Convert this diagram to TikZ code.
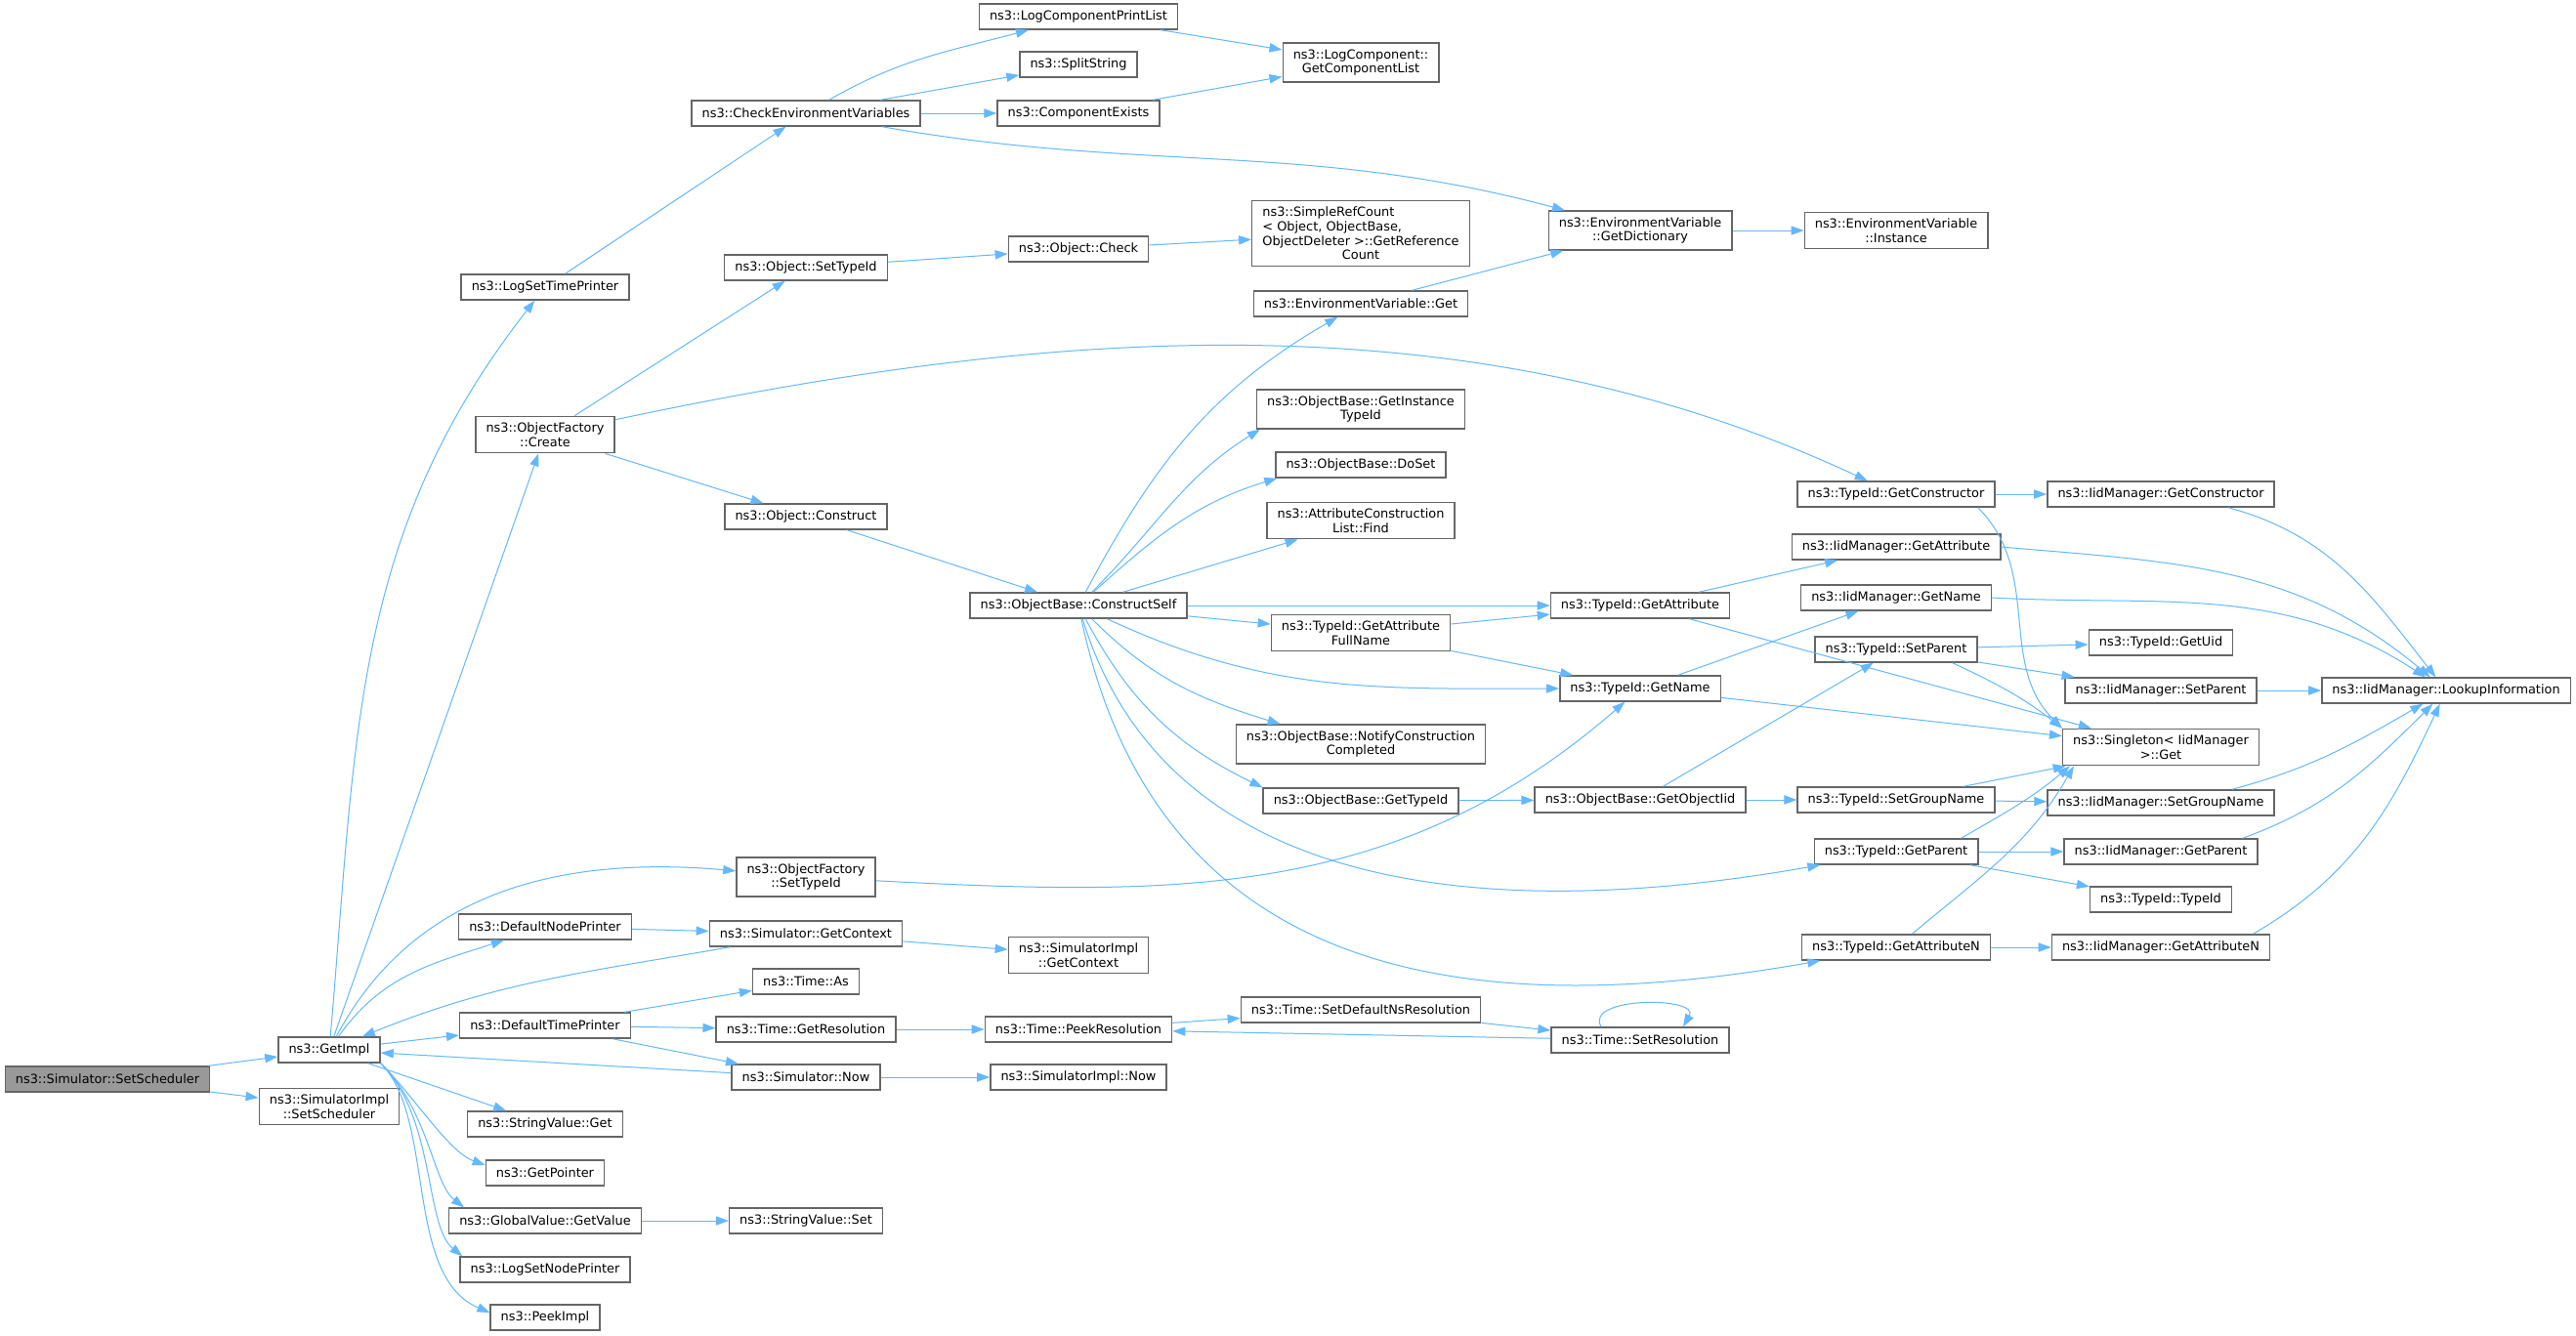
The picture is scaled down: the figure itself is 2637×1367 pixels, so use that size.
\documentclass[tikz,border=0pt]{standalone}
\usepackage{fontspec}
\setmainfont{DejaVu Sans}
\usetikzlibrary{arrows.meta}
\definecolor{callblue}{HTML}{63B8FF}
\definecolor{boxline}{HTML}{666666}
\definecolor{rootgray}{HTML}{999999}
\tikzset{
    every node/.style={rectangle, draw=boxline, fill=white, line width=0.7pt,
        align=center, inner xsep=5.3pt, inner ysep=3.2pt, minimum height=13pt,
        font=\fontsize{6.45}{7.3}\selectfont}
}
\tikzset{
    every edge/.append style={draw=callblue, line width=0.5pt,
        -{Triangle[length=6.5pt, width=4.6pt]}}
}
\newlength\leftwd
\begin{document}
\settowidth{\leftwd}{\fontsize{6.45}{7.3}\selectfont ObjectDeleter >::GetReference}
\begin{tikzpicture}[x=0.5pt, y=0.5pt]
  \path[fill=white, use as bounding box] (0,0) rectangle (2637,-1367);

  \node[fill=rootgray] (0) at (110, -1105) {ns3::Simulator::SetScheduler};
  \node (1) at (337, -1075) {ns3::GetImpl};
  \node (2) at (337, -1133) {ns3::SimulatorImpl\\::SetScheduler};
  \node (3) at (558, -294) {ns3::LogSetTimePrinter};
  \node (4) at (558, -445) {ns3::ObjectFactory\\::Create};
  \node (5) at (558, -949) {ns3::DefaultNodePrinter};
  \node (6) at (558, -1050) {ns3::DefaultTimePrinter};
  \node (7) at (558, -1151) {ns3::StringValue::Get};
  \node (8) at (558, -1201) {ns3::GetPointer};
  \node (9) at (558, -1250) {ns3::GlobalValue::GetValue};
  \node (10) at (558, -1300) {ns3::LogSetNodePrinter};
  \node (11) at (558, -1349) {ns3::PeekImpl};
  \node (12) at (825, -116) {ns3::CheckEnvironmentVariables};
  \node (13) at (825, -274) {ns3::Object::SetTypeId};
  \node (14) at (825, -529) {ns3::Object::Construct};
  \node (15) at (825, -898) {ns3::ObjectFactory\\::SetTypeId};
  \node (16) at (825, -956) {ns3::Simulator::GetContext};
  \node (17) at (825, -1005) {ns3::Time::As};
  \node (18) at (825, -1054) {ns3::Time::GetResolution};
  \node (19) at (825, -1103) {ns3::Simulator::Now};
  \node (20) at (825, -1250) {ns3::StringValue::Set};
  \node (21) at (1104, -17) {ns3::LogComponentPrintList};
  \node (22) at (1104, -66) {ns3::SplitString};
  \node (23) at (1104, -116) {ns3::ComponentExists};
  \node (24) at (1104, -255) {ns3::Object::Check};
  \node (25) at (1104, -620) {ns3::ObjectBase::ConstructSelf};
  \node (26) at (1104, -978) {ns3::SimulatorImpl\\::GetContext};
  \node (27) at (1104, -1054) {ns3::Time::PeekResolution};
  \node (28) at (1104, -1103) {ns3::SimulatorImpl::Now};
  \node (29) at (1393, -64) {ns3::LogComponent::\\GetComponentList};
  \node (30) at (1393, -239) {\makebox[\leftwd][l]{ns3::SimpleRefCount}\\\makebox[\leftwd][l]{< Object, ObjectBase,}\\ObjectDeleter >::GetReference\\Count};
  \node (31) at (1393, -311) {ns3::EnvironmentVariable::Get};
  \node (32) at (1393, -419) {ns3::ObjectBase::GetInstance\\TypeId};
  \node (33) at (1393, -476) {ns3::ObjectBase::DoSet};
  \node (34) at (1393, -533) {ns3::AttributeConstruction\\List::Find};
  \node (35) at (1393, -648) {ns3::TypeId::GetAttribute\\FullName};
  \node (36) at (1393, -762) {ns3::ObjectBase::NotifyConstruction\\Completed};
  \node (37) at (1393, -820) {ns3::ObjectBase::GetTypeId};
  \node (38) at (1393, -1034) {ns3::Time::SetDefaultNsResolution};
  \node (39) at (1679, -236) {ns3::EnvironmentVariable\\::GetDictionary};
  \node (40) at (1679, -620) {ns3::TypeId::GetAttribute};
  \node (41) at (1679, -705) {ns3::TypeId::GetName};
  \node (42) at (1679, -819) {ns3::ObjectBase::GetObjectIid};
  \node (43) at (1679, -1065) {ns3::Time::SetResolution};
  \node (44) at (1941, -236) {ns3::EnvironmentVariable\\::Instance};
  \node (45) at (1941, -506) {ns3::TypeId::GetConstructor};
  \node (46) at (1941, -560) {ns3::IidManager::GetAttribute};
  \node (47) at (1941, -612) {ns3::IidManager::GetName};
  \node (48) at (1941, -665) {ns3::TypeId::SetParent};
  \node (49) at (1941, -819) {ns3::TypeId::SetGroupName};
  \node (50) at (1941, -872) {ns3::TypeId::GetParent};
  \node (51) at (1941, -970) {ns3::TypeId::GetAttributeN};
  \node (52) at (2212, -506) {ns3::IidManager::GetConstructor};
  \node (53) at (2212, -658) {ns3::TypeId::GetUid};
  \node (54) at (2212, -707) {ns3::IidManager::SetParent};
  \node (55) at (2212, -765) {ns3::Singleton< IidManager\\ >::Get};
  \node (56) at (2212, -822) {ns3::IidManager::SetGroupName};
  \node (57) at (2212, -872) {ns3::IidManager::GetParent};
  \node (58) at (2212, -921) {ns3::TypeId::TypeId};
  \node (59) at (2212, -970) {ns3::IidManager::GetAttributeN};
  \node (60) at (2504, -707) {ns3::IidManager::LookupInformation};

  \draw (0) edge (1); \draw (0) edge (2);
  \draw (1) edge[out=85, in=-128] (3); \draw (1) edge (4);
  \draw (1) edge[out=62, in=175] (15); \draw (1) edge[out=55, in=-162] (5);
  \draw (1) edge (6); \draw (1) edge (7);
  \draw (1.south east) edge[out=-45, in=160, out distance=25pt, in distance=20pt] ([yshift=4pt]8.west);
  \draw (1.south east) edge[out=-45, in=142, out distance=35pt, in distance=20pt] ([xshift=8pt]9.north west);
  \draw (1.south east) edge[out=-45, in=141, out distance=40pt, in distance=25pt] ([xshift=1.5pt]10.north west);
  \draw (1.south east) edge[out=-45, in=157, out distance=40pt, in distance=48pt] ([yshift=2.5pt]11.west);
  \draw (16) edge[out=190, in=22] (1); \draw (19) edge (1);
  \draw (3) edge (12);
  \draw (12) edge[out=30, in=195] (21); \draw (12) edge (22); \draw (12) edge (23);
  \draw (12) edge[out=-10, in=165] (39);
  \draw (21) edge (29); \draw (23) edge (29);
  \draw (4) edge (13); \draw (4) edge (14);
  \draw (4) edge[out=12, in=155, looseness=0.9] (45);
  \draw (13) edge (24); \draw (24) edge (30); \draw (14) edge (25);
  \draw (25) edge[out=62, in=-150] (31);
  \draw (25) edge[out=45, in=-148] ([xshift=2pt]32.south west);
  \draw (25) edge[out=42, in=-163] ([xshift=1pt]33.south west);
  \draw (25) edge (34); \draw (25) edge (40); \draw (25) edge (35);
  \draw (25) edge[out=-25, in=180] (41);
  \draw (25) edge[out=-45, in=163] ([xshift=23pt]36.north west);
  \draw (25) edge[out=-62, in=154] (37.north west);
  \draw (25) edge[out=-73, in=190] (50);
  \draw (25) edge[out=-78, in=190, looseness=1.15] (51);
  \draw (31) edge (39); \draw (39) edge (44);
  \draw (35) edge (40); \draw (35) edge (41);
  \draw (37) edge (42); \draw (42) edge (48); \draw (42) edge (49);
  \draw (15) edge[out=-3, in=-139] (41);
  \draw (5) edge (16); \draw (16) edge (26);
  \draw (6) edge (17); \draw (6) edge (18); \draw (6) edge (19);
  \draw (18) edge (27); \draw (19) edge (28); \draw (9) edge (20);
  \draw (27) edge (38); \draw (38) edge (43); \draw (43) edge (27);
  \draw ([xshift=-20pt]43.north) edge[out=120, in=60, looseness=1.1] ([xshift=22pt]43.north);
  \draw (40) edge (46); \draw (40) edge (55);
  \draw (41) edge (47); \draw (41) edge (55);
  \draw (45) edge (52); \draw ([xshift=-9pt]45.south east) edge[out=-45, in=135] (55.north west);
  \draw (48) edge (53); \draw (48) edge (54);
  \draw ([xshift=-13pt]48.south east) edge[out=-25, in=142] (55.north west);
  \draw (49) edge (55); \draw (49) edge (56);
  \draw ([xshift=-9pt]50.north east) edge[out=30, in=-140] ([xshift=4pt]55.south west);
  \draw (50) edge (57); \draw (50) edge (58);
  \draw (51) edge[out=40, in=-120] ([xshift=6pt]55.south west); \draw (51) edge (59);
  \draw ([xshift=-24pt]52.south east) edge[out=-15, in=128] (60);
  \draw (46.east) edge[out=-5, in=140] (60);
  \draw (47.east) edge[out=-3, in=147] (60);
  \draw (54) edge (60);
  \draw ([xshift=-22pt]56.north east) edge[out=15, in=-150] (60);
  \draw ([xshift=-8pt]57.north east) edge[out=20, in=-135] (60);
  \draw ([xshift=-9pt]59.north east) edge[out=30, in=-115] (60);
\end{tikzpicture}
\end{document}
